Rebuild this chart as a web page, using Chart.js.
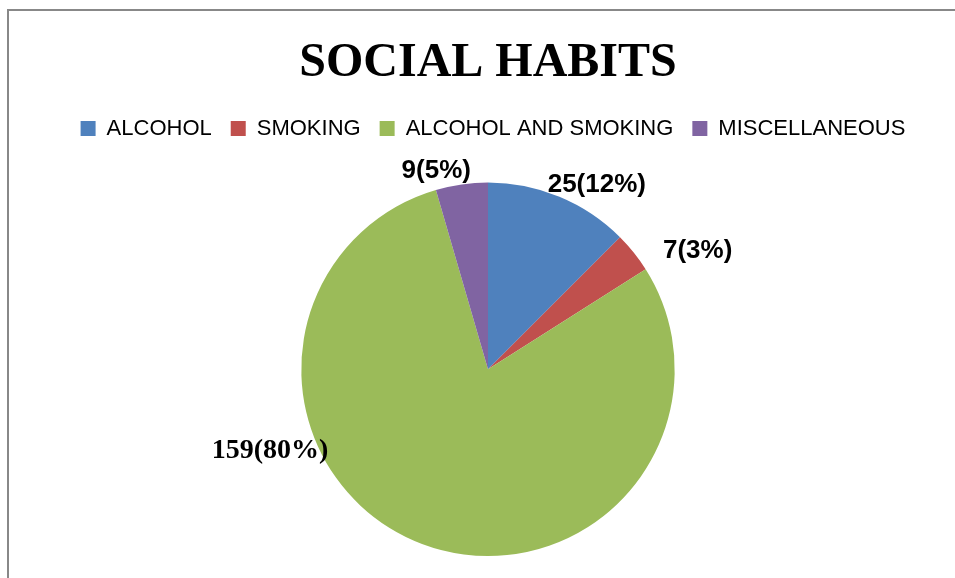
<!DOCTYPE html>
<html>
<head>
<meta charset="utf-8">
<script src="https://cdn.jsdelivr.net/npm/chart.js@4/dist/chart.umd.min.js"></script>
<style>
  html, body { margin: 0; padding: 0; background: #fff; overflow: hidden; }
  #wrap { position: relative; width: 955px; height: 578px; }
  #frame { position: absolute; left: 7px; top: 9px; width: 1200px; height: 800px;
           border-left: 2px solid #888; border-top: 2px solid #888; pointer-events: none; }
  canvas { position: absolute; left: 0; top: 0; }
</style>
</head>
<body>
<div id="wrap">
  <canvas id="c" width="955" height="578"></canvas>
  <div id="frame"></div>
</div>
<script>
// ---- data ----
const categories = ["ALCOHOL", "SMOKING", "ALCOHOL AND SMOKING", "MISCELLANEOUS"];
const counts = [25, 7, 159, 9];
const percents = [12, 3, 80, 5];
const titleText = "SOCIAL HABITS";

// ---- styles ----
const colors = ["#4F81BD", "#C0504D", "#9BBB59", "#8064A2"];
const labelPlacement = [
  { deg: 30.6, dist: 1.145 },
  { deg: 60.5, dist: 1.29 },
  { deg: 249.6, dist: 1.246 },
  { deg: -14.6, dist: 1.10 }
];
const labelFonts = [
  "bold 26px 'Liberation Sans', Arial, sans-serif",
  "bold 26px 'Liberation Sans', Arial, sans-serif",
  "bold 28px 'Liberation Serif', 'Times New Roman', serif",
  "bold 26px 'Liberation Sans', Arial, sans-serif"
];
const legendExtraBottom = 33;
const legendShiftX = 5;

const legendSpacer = {
  id: 'legendSpacer',
  beforeInit(chart) {
    const lg = chart.legend;
    if (!lg) return;
    const origFit = lg.fit;
    lg.fit = function () {
      origFit.call(this);
      this.height += legendExtraBottom;
    };
    const origDraw = lg.draw;
    lg.draw = function () {
      const ctx = this.ctx;
      ctx.save();
      ctx.translate(legendShiftX, 0);
      origDraw.apply(this, arguments);
      ctx.restore();
    };
  }
};

const sliceLabels = {
  id: 'sliceLabels',
  afterDatasetsDraw(chart) {
    const ctx = chart.ctx;
    const meta = chart.getDatasetMeta(0);
    const ds = chart.data.datasets[0];
    ctx.save();
    ctx.fillStyle = '#000';
    ctx.textAlign = 'center';
    ctx.textBaseline = 'middle';
    meta.data.forEach((arc, i) => {
      const p = arc.getProps(['x', 'y', 'outerRadius'], true);
      const a = (labelPlacement[i].deg - 90) * Math.PI / 180;
      const d = labelPlacement[i].dist * p.outerRadius;
      ctx.font = labelFonts[i];
      ctx.fillText(ds.data[i] + '(' + percents[i] + '%)', p.x + d * Math.cos(a), p.y + d * Math.sin(a));
    });
    ctx.restore();
  }
};

new Chart(document.getElementById('c'), {
  type: 'pie',
  data: {
    labels: categories,
    datasets: [{
      data: counts,
      backgroundColor: colors,
      borderWidth: 0
    }]
  },
  plugins: [legendSpacer, sliceLabels],
  options: {
    responsive: false,
    animation: false,
    events: [],
    layout: { padding: { left: 21, right: 0, top: 0, bottom: 22 } },
    plugins: {
      tooltip: { enabled: false },
      title: {
        display: true,
        text: titleText,
        color: '#000',
        font: { family: "'Liberation Serif', 'Times New Roman', serif", size: 48, weight: 'bold', lineHeight: 1.2 },
        padding: { top: 35, bottom: 6 }
      },
      legend: {
        display: true,
        position: 'top',
        labels: {
          boxWidth: 15,
          boxHeight: 15,
          padding: 19,
          color: '#000',
          font: { family: "'Liberation Sans', Arial, sans-serif", size: 22 }
        }
      }
    }
  }
});
</script>
</body>
</html>
